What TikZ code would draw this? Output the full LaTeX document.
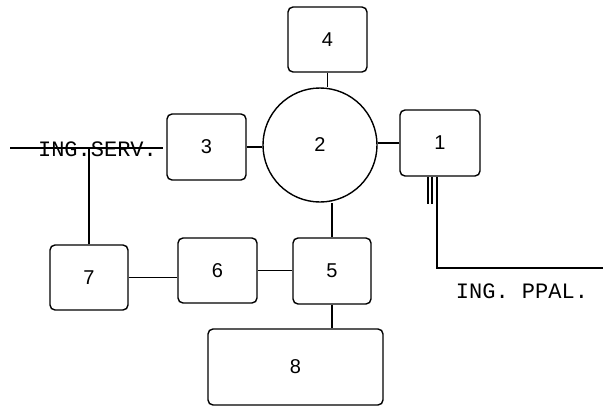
\documentclass[tikz,border=0pt]{standalone}
\usepackage{fontspec}
\setmainfont{Liberation Sans}
\newfontfamily\typew{Liberation Mono}
\begin{document}
\begin{tikzpicture}[x=1pt,y=-1pt,
  blk/.style={draw,line width=1.4pt,rounded corners=5pt,inner sep=0pt,font=\fontsize{20}{20}\selectfont},
  circ/.style={draw,line width=1.4pt,circle,inner sep=0pt,minimum size=114pt,font=\fontsize{20}{20}\selectfont},
  conn/.style={line width=1.3pt},
  lbl/.style={font=\typew\fontsize{22}{22}\selectfont,inner sep=0pt}]
\useasboundingbox (0,0) rectangle (603,407);
\node[blk,minimum width=79pt,minimum height=65pt] (n4) at (327.5,39.5) {4};
\node[circ] (n2) at (320,145) {2};
\node[blk,minimum width=80pt,minimum height=66pt] (n1) at (440,143) {1};
\node[blk,minimum width=79pt,minimum height=66pt] (n3) at (206.5,147) {3};
\node[blk,minimum width=78pt,minimum height=65pt] (n7) at (89,277.5) {7};
\node[blk,minimum width=79pt,minimum height=65pt] (n6) at (217.5,270.5) {6};
\node[blk,minimum width=78pt,minimum height=66pt] (n5) at (332,271) {5};
\node[blk,minimum width=175pt,minimum height=76pt] (n8) at (295.5,367) {8};
\coordinate (sl) at (10,148);
\coordinate (sr) at (163,148);
\coordinate (pe) at (603,268);
\draw[conn] (n4.south) -- (n4.south |- n2.north);
\draw[conn] (n1.west) -- (n1.west -| n2.east);
\draw[conn] (n3.east) -- (n3.east -| n2.west);
\draw[conn] (n5.north) -- (n5.north |- n2.south);
\draw[conn] (n5.south) -- (n5.south |- n8.north);
\draw[conn] (n6.east) -- (n6.east -| n5.west);
\draw[conn] (n7.east) -- (n7.east -| n6.west);
\draw[conn] (sl) -- (sr);
\draw[conn] (n7.north) -- (n7.north |- sl);
\draw[conn] ([xshift=-12pt]n1.south) -- ++(0,27);
\draw[conn] ([xshift=-8pt]n1.south) -- ++(0,27);
\draw[conn] ([xshift=-3pt]n1.south) |- (pe);
\node[lbl] (ts) at (97.5,149) {ING.SERV.};
\node[lbl] (tp) at (522,291) {ING. PPAL.};
\end{tikzpicture}
\end{document}
